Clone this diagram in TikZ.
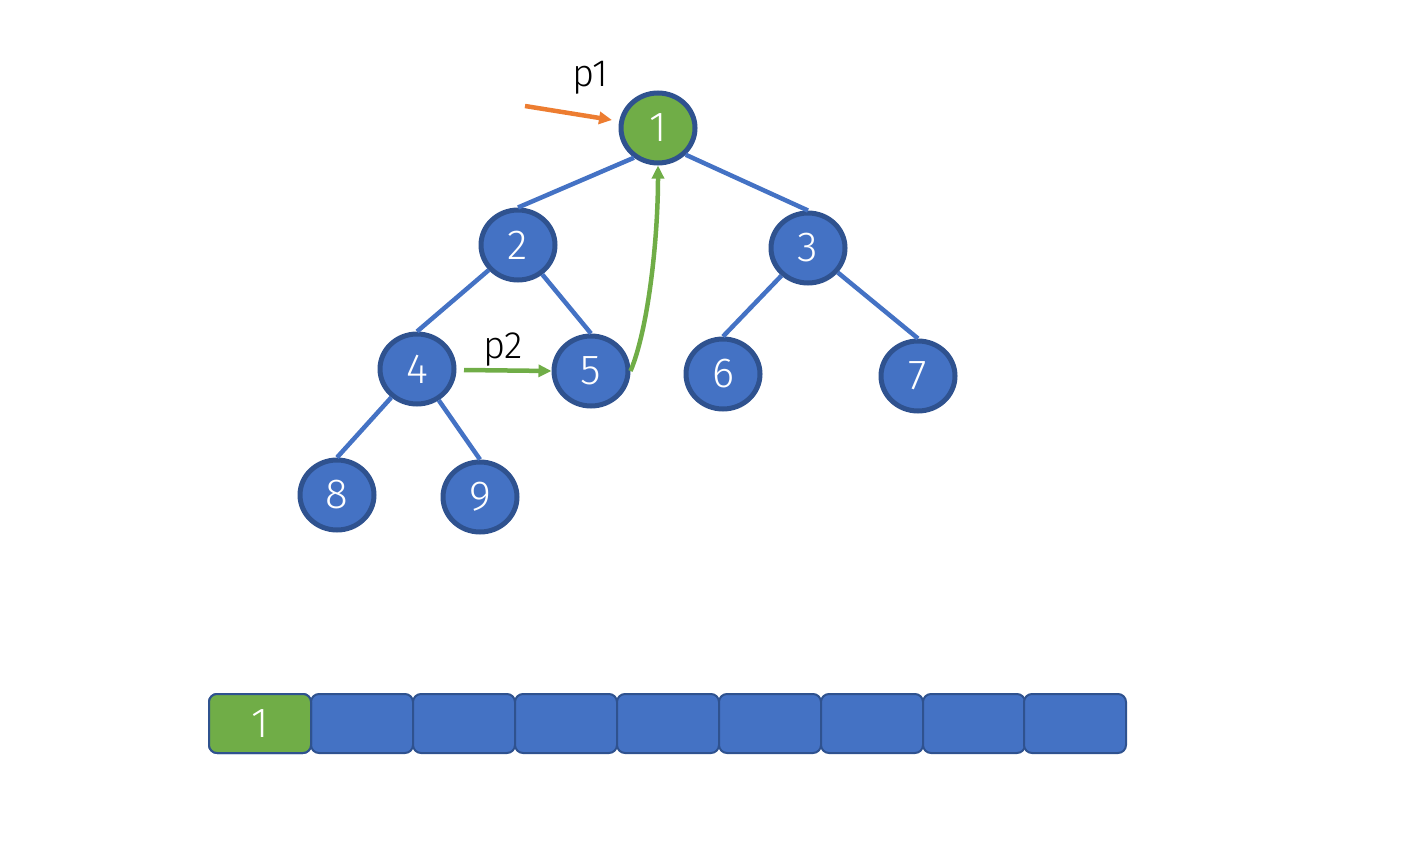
\documentclass[tikz,border=0pt]{standalone}
\usepackage{fontspec}
\setmainfont{Fira Sans}[UprightFont={* Light}]
\usetikzlibrary{arrows.meta,shapes.geometric}
\definecolor{nblue}{HTML}{4472C4}
\definecolor{nborder}{HTML}{2F528F}
\definecolor{ngreen}{HTML}{70AD47}
\definecolor{norange}{HTML}{ED7D31}
\tikzset{
  tnode/.style={ellipse,draw=nborder,line width=5pt,fill=nblue,minimum width=74pt,minimum height=70pt,inner sep=0pt,text=white,font=\fontsize{42}{46}\selectfont},
  gnode/.style={tnode,fill=ngreen},
  edge/.style={draw=nblue,line width=4.5pt},
  cell/.style={draw=nborder,line width=2pt,fill=nblue,rounded corners=8pt,minimum width=102pt,minimum height=59pt,inner sep=0pt,text=white,font=\fontsize{42}{46}\selectfont},
  ptr/.style={line width=4.5pt,-{Triangle[length=13pt,width=12pt]}},
  lbl/.style={font=\fontsize{38}{42}\selectfont,text=black,inner sep=0pt}
}
\begin{document}
\begin{tikzpicture}[x=1pt,y=-1pt]
\useasboundingbox (0,0) rectangle (1418,862);
\node[gnode] (n1) at (658,128) {1};
\node[tnode] (n2) at (518,245) {2};
\node[tnode] (n3) at (808,248) {3};
\node[tnode] (n4) at (417,369) {4};
\node[tnode] (n5) at (591,371) {5};
\node[tnode] (n6) at (723,374) {6};
\node[tnode] (n7) at (918,376) {7};
\node[tnode] (n8) at (337,495) {8};
\node[tnode] (n9) at (480,497) {9};
\draw[edge] (n1.231) -- (n2.north);
\draw[edge] (n1.316) -- (n3.north);
\draw[edge] (n2) -- (n4.north);
\draw[edge] (n2) -- (n5.north);
\draw[edge] (n3) -- (n6.north);
\draw[edge] (n3) -- (n7.north);
\draw[edge] (n4) -- (n8.north);
\draw[edge] (n4) -- (n9.north);
\node[lbl] (p1) at (590,78) {p1};
\coordinate (p1s) at (525,106);
\coordinate (p1e) at (612,120);
\draw[ptr,norange] (p1s) -- (p1e);
\node[lbl] (p2) at (503,350) {p2};
\coordinate (p2s) at (464,370);
\draw[ptr,ngreen] (p2s) -- (n5.west);
\draw[ptr,ngreen] (n5.east) .. controls (648,330) and (658,240) .. (n1.south);
\foreach \i/\x in {1/260,2/362,3/464,4/566,5/668,6/770,7/872,8/974,9/1075}{
  \node[cell] (c\i) at (\x,723.5) {};
}
\node[cell,fill=ngreen] (c1b) at (260,723.5) {1};
\end{tikzpicture}
\end{document}
